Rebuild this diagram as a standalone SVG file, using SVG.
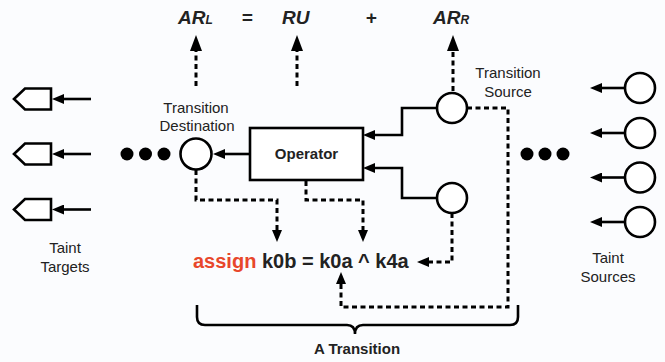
<svg xmlns="http://www.w3.org/2000/svg" width="665" height="362" viewBox="0 0 665 362">
<defs>
<style>
.t{font-family:"Liberation Sans",Arial,sans-serif;fill:#222;}
.lab{font-size:15px;text-anchor:middle;}
.f{font-size:19px;font-weight:bold;font-style:italic;}
.s{font-size:12px;}
.solid{fill:none;stroke:#000;stroke-width:2.6;}
.dash{fill:none;stroke:#000;stroke-width:3;stroke-dasharray:5 3.5;}
.node{fill:#fff;stroke:#000;stroke-width:2.6;}
.dot{fill:#000;}
</style>
<marker id="ah" markerUnits="userSpaceOnUse" markerWidth="12" markerHeight="10" refX="1" refY="5" orient="auto" viewBox="0 0 12 10">
<path d="M0,0 L12,5 L0,10 z" fill="#000"/>
</marker>
<marker id="big" markerUnits="userSpaceOnUse" markerWidth="16" markerHeight="12" refX="1" refY="6" orient="auto" viewBox="0 0 16 12">
<path d="M0,0 L16,6 L0,12 z" fill="#000"/>
</marker>
</defs>
<rect width="665" height="362" fill="#fbfcfe"/>

<g id="formula">
<text class="t f" x="178" y="24">AR<tspan class="s">L</tspan></text>
<text class="t f" x="247" y="24" text-anchor="middle" font-style="normal">=</text>
<text class="t f" x="282" y="24">RU</text>
<text class="t f" x="371" y="24" text-anchor="middle" font-style="normal" font-size="15">+</text>
<text class="t f" x="433" y="24">AR<tspan class="s">R</tspan></text>
</g>

<g id="connectors">
<path class="dash" d="M196,86 V50" marker-end="url(#big)"/>
<path class="dash" d="M297,86 V50" marker-end="url(#big)"/>
<path class="dash" d="M453,91 V50" marker-end="url(#big)"/>
<path class="solid" d="M91,99 H63" marker-end="url(#ah)"/>
<path class="solid" d="M91,154 H63" marker-end="url(#ah)"/>
<path class="solid" d="M91,209.5 H63" marker-end="url(#ah)"/>
<path class="solid" d="M250,154 H224" marker-end="url(#ah)"/>
<path class="solid" d="M437,108 H402 V135 H374" marker-end="url(#ah)"/>
<path class="solid" d="M437,198 H402 V168 H374" marker-end="url(#ah)"/>
<path class="solid" d="M625,88 H601" marker-end="url(#ah)"/>
<path class="solid" d="M625,133 H601" marker-end="url(#ah)"/>
<path class="solid" d="M625,177.5 H601" marker-end="url(#ah)"/>
<path class="solid" d="M625,222 H601" marker-end="url(#ah)"/>
<path class="dash" d="M196,170 V200 H277 V231" marker-end="url(#ah)"/>
<path class="dash" d="M306,181 V200 H363 V231" marker-end="url(#ah)"/>
<path class="dash" d="M452,213 V262 H428" marker-end="url(#ah)"/>
<path class="dash" d="M467,108 H508 V307 H341 V283" marker-end="url(#ah)"/>
</g>

<g id="taint-targets">
<polygon class="node" points="14,99 25,88.5 51,88.5 51,109.5 25,109.5"/>
<polygon class="node" points="14,154 25,143.5 51,143.5 51,164.5 25,164.5"/>
<polygon class="node" points="14,209.5 25,199 51,199 51,220 25,220"/>
<text class="t lab" x="65" y="253">Taint</text>
<text class="t lab" x="65" y="272">Targets</text>
</g>

<g id="dots-left">
<circle class="dot" cx="127" cy="154" r="6.5"/>
<circle class="dot" cx="145.5" cy="154" r="6.5"/>
<circle class="dot" cx="164" cy="154" r="6.5"/>
</g>

<g id="destination">
<circle class="node" cx="196" cy="154" r="15.5"/>
<text class="t lab" x="196" y="113">Transition</text>
<text class="t lab" x="197" y="131">Destination</text>
</g>

<g id="operator">
<rect class="node" x="250" y="128" width="113" height="52"/>
<text class="t lab" x="306.5" y="159" font-weight="bold">Operator</text>
</g>

<g id="source">
<circle class="node" cx="452" cy="108" r="15"/>
<text class="t lab" x="508" y="78">Transition</text>
<text class="t lab" x="508" y="97">Source</text>
</g>

<g id="source2">
<circle class="node" cx="452" cy="198" r="15"/>
</g>

<g id="dots-right">
<circle class="dot" cx="527" cy="154" r="6.5"/>
<circle class="dot" cx="545" cy="154" r="6.5"/>
<circle class="dot" cx="563" cy="154" r="6.5"/>
</g>

<g id="taint-sources">
<circle class="node" cx="640" cy="88" r="15"/>
<circle class="node" cx="640" cy="133" r="15"/>
<circle class="node" cx="640" cy="177.5" r="15"/>
<circle class="node" cx="640" cy="222" r="15"/>
<text class="t lab" x="608" y="263">Taint</text>
<text class="t lab" x="608" y="282">Sources</text>
</g>

<g id="assign">
<text class="t" x="193" y="268" font-size="20" font-weight="bold"><tspan fill="#e8472b">assign</tspan> k0b = k0a ^ k4a</text>
</g>

<g id="transition">
<path class="solid" d="M197,305 V317 Q197,325 205,325 H347 Q355,325 355,334 Q355,325 363,325 H510 Q518,325 518,317 V305"/>
<text class="t" x="357" y="354" font-size="15" font-weight="bold" text-anchor="middle">A Transition</text>
</g>
</svg>
